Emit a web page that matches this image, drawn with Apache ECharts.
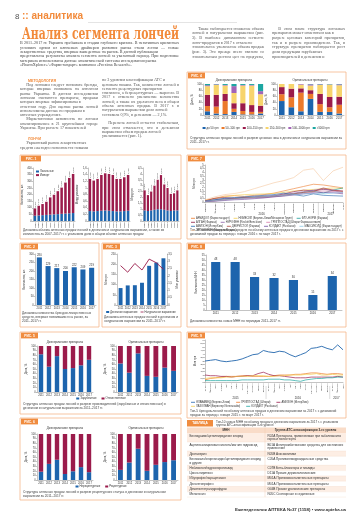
<!DOCTYPE html>
<html><head><meta charset="utf-8">
<script src="https://cdn.jsdelivr.net/npm/echarts/dist/echarts.min.js"></script>
<style>html,body{margin:0;padding:0;background:#fff}#c{width:360px;height:530px}</style>
</head><body><div id="c"></div>
<script>
// ================= DATA =================
const yrs7 = ['2011','2012','2013','2014','2015','2016','2017'];
const fig1Years = ['2007','2008','2009','2010','2011','2012','2013','2014','2015','2016','2017'];
const fig1aLocal  = [40,42,44,46,48,50,52,54,56,58,60];
const fig1aImport = [55,73,84,99,130,148,173,198,234,267,295];
const fig1aLabels = ['0,9%','1,1%','1,2%','1,3%','1,6%','1,8%','2,0%','2,3%','2,6%','3,0%','3,3%'];
const fig1bLocal  = [0.30,0.29,0.30,0.31,0.32,0.31,0.30,0.29,0.29,0.30,0.31];
const fig1bImport = [0.97,0.93,0.97,1.08,1.12,1.11,1.09,0.98,0.98,1.02,1.08];
const fig1bLabels = ['1,3%','1,2%','1,3%','1,4%','1,4%','1,4%','1,4%','1,3%','1,3%','1,3%','1,4%'];
const fig1cLocal  = [0.90,0.85,0.90,0.95,1.00,1.00,0.95,0.90,0.85,0.90,0.90];
const fig1cImport = [1.70,1.35,1.60,2.05,2.50,2.90,2.15,1.90,1.45,1.45,1.70];
const fig1cLabels = ['2,6%','2,2%','2,5%','3,0%','3,5%','3,9%','3,1%','2,8%','2,3%','2,4%','2,6%'];
const fig1Legend = ['Локальные','Импорт'];

const fig2Values = [280,229,217,200,222,209,219];

const fig3Money = [83,96,97,109,192,208,229];
const fig3Units = [2.70,2.25,2.85,2.40,3.15,2.90,2.45];
const fig3Legend = ['Денежное выражение','Натуральное выражение'];

const fig4Legend = ['до 50 грн','50–100 грн','100–150 грн','150–500 грн','500–1000 грн','>1000 грн'];
const fig4Gen = [
  [12,5,3,10,2,2,5],
  [17,22,42,10,11,8,5],
  [36,38,23,18,25,22,20],
  [28,32,27,33,57,63,37],
  [3,2,2,22,2,2,10],
  [4,1,3,7,3,3,23]
];
const fig4Orig = [
  [45,25,12,52,10,10,5],
  [22,32,60,16,25,15,28],
  [23,28,14,12,33,33,26],
  [10,15,12,15,29,40,37],
  [0,0,2,4,2,1,3],
  [0,0,0,1,1,1,1]
];
const figSubTitles = ['Дженерические препараты','Оригинальные препараты'];

const fig5Legend = ['Зарубежные','Отечественные'];
const fig5LeftBlue  = [82,55,78,50,52,58,70];
const fig5LeftRed   = [18,45,22,50,48,42,30];
const fig5RightBlue = [62,42,84,35,33,53,46];
const fig5RightRed  = [38,58,16,65,67,47,54];

const fig6Legend = ['Нерецептурные','Рецептурные'];
const fig6LeftBlue  = [18,35,44,13,19,28,17];
const fig6LeftRed   = [82,65,56,87,81,72,83];
const fig6RightBlue = [22,38,68,20,33,39,43];
const fig6RightRed  = [78,62,32,80,67,61,57];

const fig7Months = ['Январь','Февраль','Март','Апрель','Май','Июнь','Июль','Август','Сентябрь','Октябрь','Ноябрь','Декабрь','Январь','Февраль','Март'];
const fig7Years = ['2016','2017'];
const fig7Names = ['АРБИДОЛ (Фармстандарт)','НИМЕСИЛ (Берлин-Хеми/Менарини Групп)','ФЛУ-НОРМ (Фармак)','АЛГАН (Фармак)',
  'НУРОФЕН (Reckitt Benckiser)','ГРИППОСТАД (Шторм Фармасьютиклз)','АМИЗОН (ИнтерХим)','ДЕКРИСТОЛ (Фармак)',
  'КОЛДАКТ (Ранбакси)','МАКСИКОЛД (Фармстандарт)','ЭРГОФЕРОН (Материа Медика)'];
const fig7Data = [
  [0.25,0.50,0.80,0.85,0.75,0.90,1.00,1.20,1.50,1.80,2.10,2.40,2.30,2.10,1.90],
  [0.20,0.45,0.70,0.90,1.00,1.05,1.10,1.15,1.30,1.50,1.60,1.70,1.80,1.90,1.80],
  [0.10,0.25,0.40,0.50,0.60,0.65,0.70,0.80,0.90,1.10,1.30,1.50,1.20,1.60,1.90],
  [0.15,0.50,0.60,0.50,0.55,0.60,0.65,0.80,1.10,1.40,1.60,1.50,1.70,1.60,1.50],
  [0.10,0.30,0.45,0.50,0.60,0.70,0.80,0.90,1.00,1.20,1.40,1.60,1.80,1.50,1.30],
  [0.05,0.20,0.30,0.40,0.50,0.55,0.60,0.70,0.85,1.00,1.20,1.30,1.50,1.40,1.20],
  [0.10,0.30,0.50,0.60,0.70,0.80,0.90,1.00,1.20,1.00,0.80,1.10,0.90,0.85,0.80],
  [0.05,0.15,0.30,0.45,0.55,0.60,0.70,0.75,0.90,1.10,1.30,1.40,1.90,1.60,1.40],
  [0.05,0.10,0.20,0.30,0.35,0.45,0.55,0.70,0.80,0.95,1.10,1.20,1.30,1.25,1.10],
  [0.08,0.18,0.30,0.40,0.50,0.60,0.70,0.80,0.90,1.00,1.10,1.20,1.10,1.20,1.30],
  [0.30,0.70,1.00,1.15,1.40,1.80,2.20,2.60,2.90,3.30,4.30,4.50,2.90,4.20,4.70]
];

const fig8Values = [48,48,33,32,30,15,34];

const fig9Months = ['Январь','Февраль','Март','Апрель','Май','Июнь','Июль','Август','Сентябрь','Октябрь','Ноябрь','Декабрь',
  'Январь','Февраль','Март','Апрель','Май','Июнь','Июль','Август','Сентябрь','Октябрь','Ноябрь','Декабрь','Январь','Февраль','Март'];
const fig9Years = ['2015','2016','2017'];
const fig9Names = ['ФЛАВАМЕД (Берлин-Хеми)','ГРИППОСТАД (Шторм)','АМИЗОН (ИнтерХим)','ЛАЗОЛВАН (Берингер Ингельхайм)','КОЛДАКТ (Ранбакси)'];
const fig9Data = [
  [3.0,3.1,3.2,3.0,2.9,3.0,3.1,3.3,3.6,3.9,4.0,4.5,4.3,4.2,4.4,4.3,3.9,3.6,3.9,4.2,4.8,4.9,5.1,4.8,4.6,5.3,4.6],
  [0.3,0.5,0.6,0.7,0.8,0.8,0.8,0.9,0.9,0.8,0.8,0.8,0.8,0.9,1.0,1.0,1.0,1.1,1.1,1.2,1.3,1.3,1.2,1.1,1.2,1.2,1.1],
  [1.0,0.9,0.9,0.8,0.8,0.7,0.8,0.8,0.9,0.9,1.2,1.4,1.1,0.9,0.9,0.8,0.7,0.6,0.6,0.6,0.7,0.7,0.7,0.7,0.7,0.8,0.7],
  [0.5,0.6,0.6,0.6,0.7,0.7,0.8,0.8,0.8,0.9,0.9,0.9,0.8,0.8,0.9,0.9,1.0,1.0,1.0,1.1,1.1,1.2,1.0,1.0,1.1,1.0,1.0],
  [0.2,0.2,0.2,0.2,0.2,0.2,0.2,0.3,0.3,0.3,0.3,0.3,0.4,0.4,0.4,0.3,0.3,0.2,0.1,0.3,0.4,0.5,0.5,0.6,0.6,0.7,0.7]
];

const tableHead = ['МНН','Группа АТС-классификации 3-го уровня'];
const tableINN = ['Бензидамин/цетилпиридиния хлорид','Ацетилсалициловая кислота/магния гидроксид','Дротаверин',
  'Бензокаин/хлоргексидин/цетилпиридиния хлорид и другие','Небиволол/гидрохлоротиазид','Цинка пиритион',
  'Ибупрофен/парацетамол','Декскетопрофен','Деметилтетрагидрофуран','Мелатонин'];
const tableATC = ['R02A Препараты, применяемые при заболеваниях горла и полости рта','B01A Антитромботические средства для системного применения',
  'N05B Анксиолитики','C05A Противогеморроидальные средства','C07B Бета-блокаторы и тиазиды','D11A Прочие дерматологические',
  'M01A Противовоспалительные препараты','M01A Противовоспалительные препараты','G04B Прочие урологические препараты','N05C Снотворные и седативные'];

const TXT = {
  intro: 'В 2011–2017 гг. Украина пребывала в стадии глубокого кризиса. В негативных кризисных условиях одним из ключевых драйверов развития рынка стали лончи — новые лекарственные средства, впервые выведенные на рынок. В данной публикации представлены результаты анализа сегмента лончей за указанный период. При подготовке материала использованы данные аналитической системы исследования рынка «PharmXplorer»/«Фармстандарт» компании «Proxima Research».',
  colA: '      Также наблюдается снижение объема лончей в натуральном выражении (рис. 3). В наиболее динамичном сегменте лонч-продуктов в 2017 г. отмечено значительное увеличение объема продаж (рис. 3). Это прежде всего связано со значительным ростом цен на продукты, появившиеся на рынке в последние годы.',
  colB: '      В этом плане структура лончевых препаратов может изменяться как в разрезе ценовых категорий препаратов, так и в разрезе производителя. Так, в структуре препаратов наблюдается рост доли продукции зарубежных производителей в денежном и натуральном выражении. Также увеличивается количество лончей.',
  col1a: '      Под лончами следует понимать бренды, которые впервые появились на аптечном рынке Украины. В данном исследовании лончами считаются препараты, продажи которых впервые зафиксированы в отчетном году. Для оценки рынка лончей использованы данные по продажам в аптечных учреждениях.\n      Маркетинговая активность по лончам анализировалась в 21 крупнейшем городе Украины. При расчете 17 показателей учитывались новые формы выпуска и дозировки.',
  col1b: '      Украинский рынок лекарственных средств ежегодно пополняется новыми брендами и торговыми марками.',
  col2: 'по 3 уровням классификации АТС и ценовым нишам. Так, количество лончей в сегменте рецептурных препаратов снизилось, а безрецептурных — выросло. В 2017 г. отмечено увеличение количества лончей, а также их удельного веса в общем объеме аптечных продаж. В 2017 г. в натуральном выражении доля лончей составила 0,9%, в денежном — 2,1%.\n\n      Перечень лончей остается стабильным, при этом отмечается, что в денежном выражении объем продаж лончей увеличивается (рис. 1).'
};
const CAP = {
  f1: 'Динамика объема аптечных продаж лончей в денежном и натуральном выражении, а также их количества за 2007–2017 гг. с указанием доли в общем объеме аптечных продаж',
  f4: 'Структура аптечных продаж лончей в разрезе ценовых ниш в денежном и натуральном выражении за 2011–2017 гг.',
  f7: 'Топ-10 лончей лекарственных средств по объему аптечных продаж в денежном выражении за 2017 г. с динамикой продаж за период с января 2016 г. по март 2017 г.',
  f2: 'Динамика количества брендов лекарственных средств, впервые появившихся на рынке, за 2011–2017 гг.',
  f3: 'Динамика аптечных продаж лончей в денежном и натуральном выражении за 2011–2017 гг.',
  f8: 'Динамика количества новых МНН по периодам 2011–2017 гг.',
  f5: 'Структура аптечных продаж лончей в разрезе производителей (зарубежные и отечественные) в денежном и натуральном выражении за 2011–2017 гг.',
  f9: 'Топ-5 брендов-лончей по объему аптечных продаж в денежном выражении за 2017 г. с динамикой продаж за период с января 2015 г. по март 2017 г.',
  f6: 'Структура аптечных продаж лончей в разрезе рецептурного статуса в денежном и натуральном выражении за 2011–2017 гг.',
  tab: 'Топ-10 новых МНН по объему продаж в денежном выражении за 2017 г. с указанием группы АТС-классификации 3-го уровня'
};

// ================= BUILD =================
const C = {tag:'#f08c3f', border:'#f5b68b', title:'#f28a3a', blue:'#1d64ad', crim:'#9b1b4b', org:'#ec7a2b',
  yel:'#f7d46c', pur:'#a264b6', teal:'#1ca6a1', text:'#333', body:'#555'};
const fig7Colors = ['#ec7a2b','#f3cd4f','#1a9c9a','#8e1840','#8b5ea8','#d77aa8','#2266ad','#b0443c','#6e4a9e','#8cc9e6','#f5c8a0'];
const fig9Colors = ['#2266ad','#ec7a2b','#9b1b4b','#f3cd4f','#1ca6a1'];
const segColors = [C.blue, C.org, C.crim, C.yel, C.pur, C.teal];
const SANS = 'Liberation Sans', SERIF = 'Liberation Serif';
const mctx = document.createElement('canvas').getContext('2d');
function tw(t, fs, fam, fw){ mctx.font = (fw||'normal')+' '+fs+'px "'+(fam||SANS)+'"'; return mctx.measureText(t).width; }
function wrapP(text, w, fs, fam, fw){
  const out=[];
  text.split('\n').forEach(par=>{
    if(par.trim()===''){ out.push({t:'',last:true}); return; }
    const ind=par.match(/^\s*/)[0]; const words=par.trim().split(/\s+/); let cur=ind;
    words.forEach(wd=>{ const test=(cur.trim()?cur+' ':cur)+wd;
      if(tw(test,fs,fam,fw)>w && cur.trim()){ out.push({t:cur,last:false}); cur=wd; } else cur=test; });
    out.push({t:cur,last:true}); });
  return out;
}
const wrap = (t,w,fs,fam,fw) => wrapP(t,w,fs,fam,fw).map(l=>l.t);

const grids=[], xAxes=[], yAxes=[], series=[], G=[];
function txt(x,y,text,o){ o=o||{};
  const fs=o.fs||3, ff=o.ff||SANS, fw=o.fw||'normal';
  let t=text;
  if(o.w){ let lines=wrap(text,o.w,fs,ff,fw); if(o.maxL) lines=lines.slice(0,o.maxL); t=lines.join('\n'); }
  const st={text:t, fill:o.c||C.text, fontSize:fs, fontFamily:ff, fontWeight:fw, align:o.al||'left', verticalAlign:o.va||'top'};
  if(o.lh) st.lineHeight=o.lh;
  const el={type:'text', x, y, silent:true, z:o.z||20, style:st};
  if(o.sx) el.scaleX=o.sx;
  G.push(el);
}
// justified paragraph block
function para(x,y,text,o){
  const fs=o.fs, ff=o.ff||SERIF, c=o.c||C.body;
  let lines=wrapP(text,o.w,fs,ff); if(o.maxL) lines=lines.slice(0,o.maxL);
  const sp=tw(' ',fs,ff);
  lines.forEach((L,i)=>{
    const ly=y+i*o.lh+o.lh/2; if(!L.t.trim()) return;
    const ind=L.t.match(/^\s*/)[0]; const ix=ind?tw(ind,fs,ff):0;
    const words=L.t.trim().split(/\s+/);
    const sum=words.reduce((a,wd)=>a+tw(wd,fs,ff),0);
    const gap=words.length>1?(o.w-ix-sum)/(words.length-1):0;
    if(L.last || words.length<2 || gap>sp*3.5){ txt(x+ix,ly,L.t.trim(),{fs,ff,c,va:'middle'}); return; }
    let cx=x+ix; words.forEach(wd=>{ txt(cx,ly,wd,{fs,ff,c,va:'middle'}); cx+=tw(wd,fs,ff)+gap; });
  });
}
function rect(x,y,w,h,fill,stroke,lw,z){ G.push({type:'rect', silent:true, z:z||1, shape:{x,y,width:w,height:h}, style:{fill:fill||'none', stroke:stroke||null, lineWidth:lw||0}}); }
function hline(x1,y1,x2,y2,color,lw,z){ G.push({type:'line', silent:true, z:z||2, shape:{x1,y1,x2,y2}, style:{stroke:color, lineWidth:lw||0.5}}); }
function box(x,y,w,h,label,tagW){
  rect(x,y,w,h,'none',C.border,0.8,1);
  tagW=tagW||17;
  rect(x+1,y+0.6,tagW,5.8,C.tag,null,0,3);
  txt(x+1+tagW/2,y+3.6,label,{c:'#fff',fs:3.3,fw:'bold',al:'center',va:'middle',z:4});
}
function grid(l,t,w,h){ grids.push({left:l,top:t,width:w,height:h,containLabel:false,outerBoundsMode:'none'}); return grids.length-1; }
const comma = v => String(v).replace('.',',');
function xcat(g,data,o){ o=o||{};
  xAxes.push({type:'category',gridIndex:g,data,boundaryGap:o.bg===undefined?true:o.bg,
    axisLine:{lineStyle:{color:'#888',width:0.5}},axisTick:{show:false},
    axisLabel:{fontSize:o.fs||2.8,color:C.text,margin:o.m||1.4,interval:0,rotate:o.rot||0,fontFamily:SANS,hideOverlap:false}});
  return xAxes.length-1; }
function yval(g,min,max,itv,o){ o=o||{};
  const ax={type:'value',gridIndex:g,min,max,interval:itv,position:o.pos||'left',
    name:o.name||'',nameLocation:'middle',nameGap:o.ng||8,
    nameTextStyle:{fontSize:2.8,color:C.text,fontFamily:SANS},
    axisLine:{show:true,lineStyle:{color:'#888',width:0.5}},
    axisTick:{show:true,length:1,lineStyle:{color:'#888',width:0.5}},
    splitLine:{show:false},
    axisLabel:{fontSize:o.fs||2.7,color:C.text,margin:1.2,fontFamily:SANS,formatter:o.fmt||(v=>comma(v)),hideOverlap:false}};
  yAxes.push(ax); return yAxes.length-1; }
function bar(xi,yi,data,color,o){ o=o||{};
  const s={type:'bar',xAxisIndex:xi,yAxisIndex:yi,data,barWidth:o.bw||'60%',itemStyle:{color},silent:true,animation:false};
  if(o.stack) s.stack=o.stack;
  if(o.label) s.label=o.label;
  series.push(s); }
function line(xi,yi,data,color,w){ series.push({type:'line',xAxisIndex:xi,yAxisIndex:yi,data,symbol:'none',showSymbol:false,
  lineStyle:{color,width:w||0.6},itemStyle:{color},silent:true,animation:false}); }
function legend(items,o){
  const fs=o.fs||2.9, iw=o.iw||3, gap=o.gap||3, lh=o.lh||4;
  const ws=items.map(it=>iw+1+tw(it.name,fs));
  const rows=[]; let cur=[], cw=0;
  items.forEach((it,i)=>{ const w=ws[i]; if(cur.length && o.maxW && cw+gap+w>o.maxW){rows.push({it:cur,w:cw});cur=[];cw=0;}
    cw+=(cur.length?gap:0)+w; cur.push([it,w]); });
  if(cur.length) rows.push({it:cur,w:cw});
  rows.forEach((r,ri)=>{ let x=o.center?o.x-r.w/2:o.x; const y=o.y+ri*lh;
    r.it.forEach(([it,w])=>{
      if(it.kind==='line') hline(x,y,x+iw,y,it.color,0.8,22); else rect(x,y-1,iw,2,it.color,null,0,22);
      txt(x+iw+1,y,it.name,{fs,va:'middle',z:22}); x+=w+gap; }); });
}
function yearLabels(gl,gw,n,y,labels,spans){ let s=0; labels.forEach((lab,i)=>{ const mid=s+spans[i]/2; txt(gl+mid*gw/n,y,lab,{fs:2.8,al:'center',va:'middle'});
  if(i>0) hline(gl+s*gw/n,y-12,gl+s*gw/n,y+1,'#aaa',0.4); s+=spans[i]; }); }
function rotLabel(arr){ return {show:true,position:'top',rotate:90,align:'left',verticalAlign:'middle',distance:1,fontSize:2.5,color:C.text,fontFamily:SANS,formatter:p=>arr[p.dataIndex]}; }
function topLabel(){ return {show:true,position:'top',distance:0.8,fontSize:2.8,color:C.text,fontFamily:SANS}; }

// ---------- header / texts ----------
txt(15,16.5,'8',{fs:8,c:'#555',va:'middle'});
{ const t=':: аналитика', w=tw(t,10,SANS,'bold'); txt(22,16.5,t,{fs:10,fw:'bold',c:C.title,va:'middle',sx:61/w}); }
hline(88,22.5,237,22.5,'#c8c8c8',0.5);
{ const t='Анализ сегмента лончей', w=tw(t,17,'DejaVu Serif','bold'); txt(22,34.5,t,{fs:17,fw:'bold',ff:'DejaVu Serif',c:C.title,va:'middle',sx:157/w}); }
const BF=4.1;
para(20,41.2,TXT.intro,{fs:BF,c:'#444',w:159,lh:4.3,maxL:6});
para(192,26.2,TXT.colA,{fs:BF,w:72,lh:4.65,maxL:7});
para(272,26.2,TXT.colB,{fs:BF,w:73,lh:4.65,maxL:7});
txt(28,80.5,'МЕТОДОЛОГИЯ',{fs:3.6,fw:'bold',c:C.title,va:'middle'});
para(20,82.8,TXT.col1a,{fs:BF,w:78,lh:4.3,maxL:11});
txt(28,138.5,'ЛОНЧИ',{fs:3.6,fw:'bold',c:C.title,va:'middle'});
para(20,141,TXT.col1b,{fs:BF,w:78,lh:4.3,maxL:2});
para(102,78,TXT.col2,{fs:BF,w:77,lh:4.3,maxL:17});
txt(346,510,'Еженедельник АПТЕКА №37 (1158) • www.apteka.ua',{fs:4.4,fw:'bold',c:'#333',al:'right',va:'middle'});

// ---------- FIG 4 ----------
box(187,72,159,77,'РИС. 4');
txt(234,80,figSubTitles[0],{fs:2.9,al:'center',va:'middle'});
txt(310,80,figSubTitles[1],{fs:2.9,al:'center',va:'middle'});
{ const g1=grid(203,84,62,31), x1=xcat(g1,yrs7), y1=yval(g1,0,100,20,{name:'Доля, %',ng:7});
  fig4Gen.forEach((d,i)=>bar(x1,y1,d,segColors[i],{stack:'f4a',bw:'58%'}));
  const g2=grid(277,84,67,31), x2=xcat(g2,yrs7), y2=yval(g2,0,100,20,{name:'Доля, %',ng:7});
  fig4Orig.forEach((d,i)=>bar(x2,y2,d,segColors[i],{stack:'f4b',bw:'58%'})); }
legend(fig4Legend.map((n,i)=>({name:n,color:segColors[i]})),{x:266,y:128,center:true,fs:2.8});
txt(190,136.5,CAP.f4,{fs:3.2,w:154,lh:4,maxL:2,c:'#444'});

// ---------- FIG 1 ----------
box(20,155,161,84,'РИС. 1',20);
{ const ga=grid(33,168,42,53), xa=xcat(ga,fig1Years,{rot:90,fs:2.5}), ya=yval(ga,0,400,50,{name:'Количество, шт.',ng:8});
  bar(xa,ya,fig1aLocal,C.blue,{stack:'f1a',bw:'66%'}); bar(xa,ya,fig1aImport,C.crim,{stack:'f1a',bw:'66%',label:rotLabel(fig1aLabels)});
  const gb=grid(88,168,42,53), xb=xcat(gb,fig1Years,{rot:90,fs:2.5}), yb=yval(gb,0,1.6,0.2,{name:'Млрд упаковок',ng:8});
  bar(xb,yb,fig1bLocal,C.blue,{stack:'f1b',bw:'66%'}); bar(xb,yb,fig1bImport,C.crim,{stack:'f1b',bw:'66%',label:rotLabel(fig1bLabels)});
  const gc=grid(143,168,36,53), xc=xcat(gc,fig1Years,{rot:90,fs:2.5}), yc=yval(gc,0,4.5,0.5,{name:'Млрд грн',ng:8});
  bar(xc,yc,fig1cLocal,C.blue,{stack:'f1c',bw:'66%'}); bar(xc,yc,fig1cImport,C.crim,{stack:'f1c',bw:'66%',label:rotLabel(fig1cLabels)}); }
legend([{name:fig1Legend[0],color:C.blue},{name:fig1Legend[1],color:C.crim}],{x:36,y:171.5,maxW:16,lh:3.6,fs:2.7});
txt(23,228,CAP.f1,{fs:3.2,w:156,lh:4,maxL:2,c:'#444'});

// ---------- FIG 7 ----------
box(187,155,159,84,'РИС. 7');
{ const g=grid(205,165,138,37), x=xcat(g,fig7Months,{rot:90,fs:2.5,bg:false}), y=yval(g,0,5,0.5,{name:'Млн грн',ng:8});
  fig7Data.forEach((d,i)=>line(x,y,d,fig7Colors[i],0.6));
  yearLabels(205,138,fig7Months.length-1,214.2,fig7Years,[11.5,2.5]); }
legend(fig7Names.map((n,i)=>({name:n,color:fig7Colors[i],kind:'line'})),{x:191,y:218.3,maxW:153,lh:4,fs:2.7,iw:4,gap:4});
txt(190,228.6,CAP.f7,{fs:3.2,w:154,lh:4,maxL:2,c:'#444'});

// ---------- FIG 2 ----------
box(20,243,79,84,'РИС. 2');
{ const g=grid(35,254,61,51), x=xcat(g,yrs7,{fs:2.7}), y=yval(g,0,300,50,{name:'Количество, шт.',ng:7});
  bar(x,y,fig2Values,C.blue,{bw:'58%',label:topLabel()}); }
txt(22,311,CAP.f2,{fs:3.2,w:75,lh:4,maxL:3,c:'#444'});

// ---------- FIG 3 ----------
box(102,243,79,84,'РИС. 3');
{ const g=grid(117,254,50,51), x=xcat(g,yrs7,{fs:2.6}),
    y1=yval(g,0,250,50,{name:'Млн грн',ng:7}), y2=yval(g,0,3.5,0.5,{name:'Млн упаковок',ng:7,pos:'right'});
  bar(x,y1,fig3Money,C.blue,{bw:'55%'}); line(x,y2,fig3Units,C.crim,0.9); }
legend([{name:fig3Legend[0],color:C.blue},{name:fig3Legend[1],color:C.crim,kind:'line'}],{x:141,y:312,center:true,fs:2.7});
txt(104,315,CAP.f3,{fs:3.2,w:75,lh:4,maxL:2,c:'#444'});

// ---------- FIG 8 ----------
box(187,243,159,84,'РИС. 8');
{ const g=grid(206,255,136,55), x=xcat(g,yrs7,{fs:2.8}), y=yval(g,0,55,5,{name:'Количество МНН',ng:8});
  bar(x,y,fig8Values,C.blue,{bw:'47%',label:topLabel()}); }
txt(190,318.8,CAP.f8,{fs:3.2,w:154,lh:4,maxL:1,c:'#444'});

// ---------- FIG 5 ----------
box(20,332,161,82,'РИС. 5');
txt(65,342,figSubTitles[0],{fs:2.9,al:'center',va:'middle'});
txt(146,342,figSubTitles[1],{fs:2.9,al:'center',va:'middle'});
{ const g1=grid(37,346,56,46), x1=xcat(g1,yrs7,{fs:2.6}), y1=yval(g1,0,100,10,{name:'Доля, %',ng:8});
  bar(x1,y1,fig5LeftBlue,C.blue,{stack:'f5a',bw:'55%'}); bar(x1,y1,fig5LeftRed,C.crim,{stack:'f5a',bw:'55%'});
  const g2=grid(116,346,62,46), x2=xcat(g2,yrs7,{fs:2.6}), y2=yval(g2,0,100,10,{name:'Доля, %',ng:8});
  bar(x2,y2,fig5RightBlue,C.blue,{stack:'f5b',bw:'55%'}); bar(x2,y2,fig5RightRed,C.crim,{stack:'f5b',bw:'55%'}); }
legend([{name:fig5Legend[0],color:C.blue},{name:fig5Legend[1],color:C.crim}],{x:101,y:398.5,center:true,fs:2.8,gap:5});
txt(23,402.5,CAP.f5,{fs:3.2,w:156,lh:4,maxL:2,c:'#444'});

// ---------- FIG 9 ----------
box(187,332,159,86,'РИС. 9');
{ const g=grid(205,340,138,42), x=xcat(g,fig9Months,{rot:90,fs:2.3,bg:false}), y=yval(g,0,6,0.5,{name:'Млн грн',ng:8,fs:2.4});
  fig9Data.forEach((d,i)=>line(x,y,d,fig9Colors[i],i===0?0.9:0.7));
  yearLabels(205,138,fig9Months.length-1,398,fig9Years,[11.5,12,2.5]); }
legend(fig9Names.map((n,i)=>({name:n,color:fig9Colors[i],kind:'line'})),{x:191,y:402.3,maxW:153,lh:4,fs:2.7,iw:4,gap:6});
txt(190,408.8,CAP.f9,{fs:3.2,w:154,lh:4,maxL:2,c:'#444'});

// ---------- FIG 6 ----------
box(20,418,161,82,'РИС. 6');
txt(65,428,figSubTitles[0],{fs:2.9,al:'center',va:'middle'});
txt(146,428,figSubTitles[1],{fs:2.9,al:'center',va:'middle'});
{ const g1=grid(37,434,56,46), x1=xcat(g1,yrs7,{fs:2.6}), y1=yval(g1,0,100,10,{name:'Доля, %',ng:8});
  bar(x1,y1,fig6LeftBlue,C.blue,{stack:'f6a',bw:'55%'}); bar(x1,y1,fig6LeftRed,C.crim,{stack:'f6a',bw:'55%'});
  const g2=grid(116,434,62,46), x2=xcat(g2,yrs7,{fs:2.6}), y2=yval(g2,0,100,10,{name:'Доля, %',ng:8});
  bar(x2,y2,fig6RightBlue,C.blue,{stack:'f6b',bw:'55%'}); bar(x2,y2,fig6RightRed,C.crim,{stack:'f6b',bw:'55%'}); }
legend([{name:fig6Legend[0],color:C.blue},{name:fig6Legend[1],color:C.crim}],{x:101,y:486.5,center:true,fs:2.8,gap:5});
txt(23,490,CAP.f6,{fs:3.2,w:156,lh:4,maxL:2,c:'#444'});

// ---------- TABLE ----------
{ const X0=187, X1=265, X2=346, fs=3.1, lh=3.7;
  rect(X0,420,26,6.5,C.tag,null,0,3);
  txt(X0+13,423.3,'ТАБЛИЦА',{c:'#fff',fs:3.2,fw:'bold',al:'center',va:'middle',z:4});
  txt(216,419.8,CAP.tab,{fs:3.1,w:130,lh:3.8,maxL:2,c:'#444'});
  let y=427.5;
  rect(X0,y,X2-X0,5.5,'#f9dcc8',null,0,1);
  txt((X0+X1)/2,y+2.8,tableHead[0],{fs:3.1,fw:'bold',al:'center',va:'middle'});
  txt((X1+X2)/2,y+2.8,tableHead[1],{fs:3.1,fw:'bold',al:'center',va:'middle'});
  y+=5.5;
  tableINN.forEach((inn,i)=>{
    const n=Math.max(wrap(inn,X1-X0-5,fs).length, wrap(tableATC[i],X2-X1-5,fs).length); const h=1.6+n*lh;
    rect(X0,y,X2-X0,h,i%2===0?'#fdeee4':'#ffffff',null,0,1);
    hline(X0,y+h,X2,y+h,'#f3d2bd',0.3,2);
    txt(X0+2.5,y+0.8,inn,{fs,w:X1-X0-5,lh,c:'#333'});
    txt(X1+2.5,y+0.8,tableATC[i],{fs,w:X2-X1-5,lh,c:'#333'});
    y+=h; });
  hline(X1,427.5,X1,y,'#f0c7ad',0.4,2);
}

const chart = echarts.init(document.getElementById('c'), null, {renderer:'canvas', width:360, height:530});
chart.setOption({animation:false, backgroundColor:'#fff', grid:grids, xAxis:xAxes, yAxis:yAxes, series, graphic:{elements:G}});
</script></body></html>
